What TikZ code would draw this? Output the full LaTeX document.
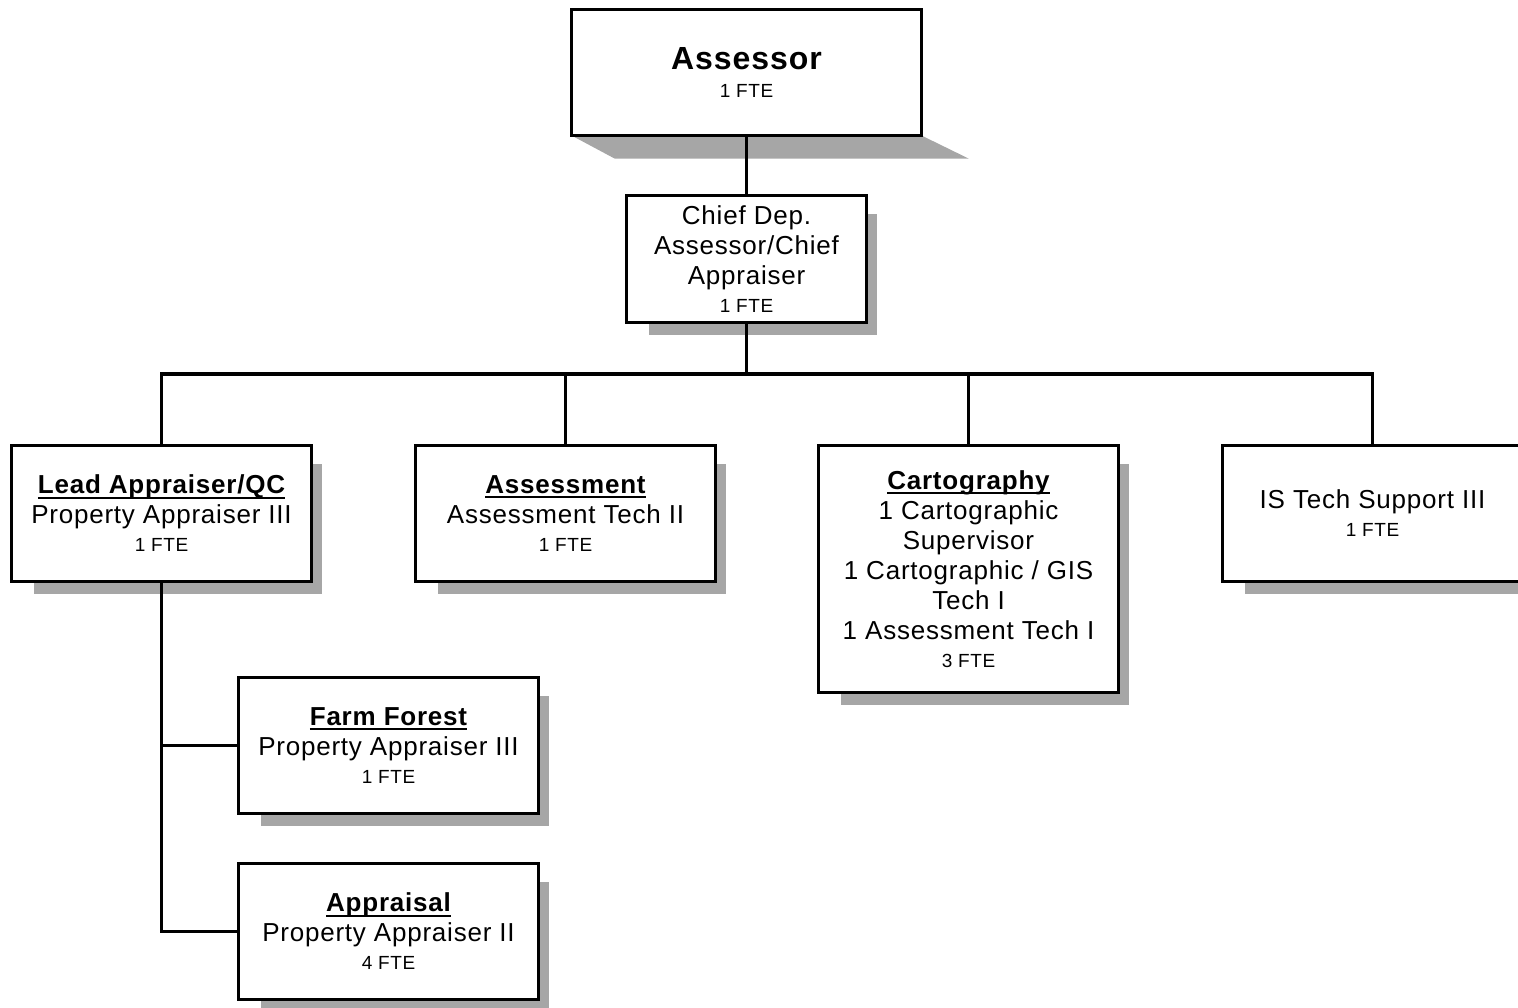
\documentclass[tikz,border=0pt]{standalone}
\usepackage{fontspec}
\setmainfont{Liberation Sans}[LetterSpace=3]
\usetikzlibrary{calc,backgrounds}

\definecolor{shadowgray}{HTML}{A6A6A6}

% small staffing line under each title
\newcommand\unitfte[1]{{\fontsize{9.5}{11}\selectfont #1}}
% bold heading with a rule set through the descenders
\newsavebox\headbox
\newcommand\ulhead[1]{\sbox\headbox{\bfseries #1}\rlap{\rule[-2.4pt]{\wd\headbox}{1pt}}\usebox\headbox}

\begin{document}
\begin{tikzpicture}[x=0.5pt,y=-0.5pt,
  box/.style={draw, fill=white, line width=1.6pt, inner sep=0pt, outer sep=0pt,
              align=center, font=\fontsize{13}{15}\selectfont},
  unitbox/.style={box, minimum width=150pt, minimum height=68pt},
  conn/.style={line width=1.6pt},
  shade/.style={fill=shadowgray}]
\clip (0,0) rectangle (1518,1007);

% boxes
\node[box, minimum width=175pt, minimum height=63pt] (assessor) at (746.5,72.5)
  {{\fontsize{16}{19}\selectfont\bfseries Assessor}\\[-1pt]\unitfte{1 FTE}};
\node[box, minimum width=120pt, minimum height=63.5pt] (chief) at (746.5,259)
  {Chief Dep.\\Assessor/Chief\\Appraiser\\[-1pt]\unitfte{1 FTE}};
\node[unitbox] (lead) at (161.5,513.5)
  {\ulhead{Lead Appraiser/QC}\\Property Appraiser III\\[-1pt]\unitfte{1 FTE}};
\node[unitbox] (assess) at (565.5,513.5)
  {\ulhead{Assessment}\\Assessment Tech II\\[-1pt]\unitfte{1 FTE}};
\node[unitbox, minimum height=123.5pt] (cart) at (968.5,569)
  {\ulhead{Cartography}\\1 Cartographic\\Supervisor\\1 Cartographic / GIS\\Tech I\\1 Assessment Tech I\\[-1pt]\unitfte{3 FTE}};
\node[unitbox] (is) at (1372.5,513.5)
  {IS Tech Support III\\[-1pt]\unitfte{1 FTE}};
\node[unitbox] (farm) at (388.5,745.5)
  {\ulhead{Farm Forest}\\Property Appraiser III\\[-1pt]\unitfte{1 FTE}};
\node[unitbox] (appraisal) at (388.5,931.5)
  {\ulhead{Appraisal}\\Property Appraiser II\\[-1pt]\unitfte{4 FTE}};

% drop shadows
\begin{scope}[on background layer]
  \fill[shade] (assessor.south west) -- ++(43,23)
    -- ($(assessor.south east)+(47,23)$) -- (assessor.south east) -- cycle;
  \foreach \n in {chief,lead,assess,cart,is,farm,appraisal}
    \fill[shade] ($(\n.north west)+(22,18)$) rectangle ($(\n.south east)+(10,12)$);
\end{scope}

% reporting lines
\coordinate (bus) at (746.5,374);
\draw[conn] (assessor.south) -- (chief.north);
\draw[conn] (chief.south) -- (bus);
\draw[conn] (lead.north) |- (bus) -| (is.north);
\draw[conn] (assess.north) -- (assess.north |- bus);
\draw[conn] (cart.north) -- (cart.north |- bus);
\draw[conn] (lead.south) |- (appraisal.west);
\draw[conn] (lead.south |- farm.west) -- (farm.west);
\end{tikzpicture}
\end{document}
